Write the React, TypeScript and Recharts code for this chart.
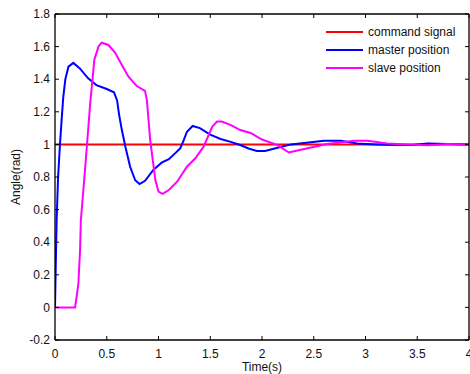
import React from 'react';
import { LineChart, Line, XAxis, YAxis, Legend } from 'recharts';

const xTicks = [0, 0.5, 1, 1.5, 2, 2.5, 3, 3.5, 4];
const yTicks = [-0.2, 0, 0.2, 0.4, 0.6, 0.8, 1, 1.2, 1.4, 1.6, 1.8];
const seriesNames = ['command signal', 'master position', 'slave position'];
const seriesColors = ['#ff0000', '#0000ff', '#ff00ff'];
const xLabel = 'Time(s)';
const yLabel = 'Angle(rad)';

const commandT = [0, 4];
const commandV = [1, 1];

const masterT = [0, 0.008, 0.016, 0.03, 0.048, 0.065, 0.08, 0.1, 0.13, 0.177, 0.24, 0.32, 0.4, 0.5, 0.57, 0.6, 0.62, 0.646, 0.68, 0.726, 0.775, 0.817, 0.87, 0.95, 1.03, 1.1, 1.16, 1.21, 1.24, 1.275, 1.33, 1.4, 1.5, 1.6, 1.69, 1.79, 1.87, 1.95, 2.03, 2.15, 2.28, 2.45, 2.6, 2.76, 2.92, 3.1, 3.28, 3.45, 3.6, 3.8, 4.0];
const masterV = [0, 0.28, 0.54, 0.8, 1.0, 1.16, 1.29, 1.4, 1.477, 1.5, 1.466, 1.405, 1.364, 1.34, 1.32, 1.27, 1.18, 1.088, 0.986, 0.863, 0.78, 0.757, 0.777, 0.843, 0.888, 0.909, 0.945, 0.976, 1.02, 1.078, 1.113, 1.1, 1.06, 1.033, 1.017, 0.996, 0.975, 0.96, 0.96, 0.98, 1.0, 1.012, 1.023, 1.023, 1.006, 1.0, 0.996, 0.996, 1.006, 1.003, 1.0];

const slaveT = [0, 0.194, 0.21, 0.226, 0.242, 0.25, 0.29, 0.34, 0.38, 0.42, 0.45, 0.516, 0.58, 0.646, 0.71, 0.79, 0.87, 0.888, 0.92, 0.97, 1.0, 1.04, 1.1, 1.18, 1.275, 1.356, 1.436, 1.52, 1.566, 1.61, 1.695, 1.79, 1.89, 2.0, 2.15, 2.26, 2.44, 2.63, 2.89, 3.02, 3.21, 3.4, 3.6, 3.8, 4.0];
const slaveV = [0, 0, 0.07, 0.148, 0.35, 0.536, 0.843, 1.25, 1.52, 1.6, 1.624, 1.61, 1.564, 1.487, 1.415, 1.358, 1.329, 1.27, 1.025, 0.78, 0.71, 0.696, 0.72, 0.771, 0.863, 0.915, 0.986, 1.109, 1.14, 1.14, 1.12, 1.088, 1.07, 1.03, 0.996, 0.95, 0.976, 1.003, 1.023, 1.023, 1.006, 1.0, 0.995, 1.003, 1.0];

const zip = (t: number[], v: number[]) => t.map((tt, i) => ({ t: tt, v: v[i] }));
const commandData = zip(commandT, commandV);
const masterData = zip(masterT, masterV);
const slaveData = zip(slaveT, slaveV);

const FONT = '"Liberation Sans", Arial, sans-serif';
const fmt = (v: number) => String(Number(v.toFixed(2)));
const BOTTOM_MARGIN = 9;
const LEFT_MARGIN = 5;
const TICK_LEN = 4;

const BottomTick = (props: any) => {
  const { x, y, payload } = props;
  const axisY = y - BOTTOM_MARGIN;
  return (
    <g>
      <line x1={x} x2={x} y1={axisY} y2={axisY - TICK_LEN} stroke="#000" strokeWidth={1} />
      <text x={x} y={y} dy="0.71em" textAnchor="middle" fontSize={12} fontFamily={FONT} fill="#111">
        {fmt(payload.value)}
      </text>
    </g>
  );
};

const LeftTick = (props: any) => {
  const { x, y, payload } = props;
  const axisX = x + LEFT_MARGIN;
  return (
    <g>
      <line x1={axisX} x2={axisX + TICK_LEN} y1={y} y2={y} stroke="#000" strokeWidth={1} />
      <text x={x} y={y} dy="0.35em" textAnchor="end" fontSize={12} fontFamily={FONT} fill="#111">
        {fmt(payload.value)}
      </text>
    </g>
  );
};

const TopTick = (props: any) => {
  const { x, y } = props;
  return <line x1={x} x2={x} y1={y} y2={y + TICK_LEN} stroke="#000" strokeWidth={1} />;
};

const RightTick = (props: any) => {
  const { x, y } = props;
  return <line x1={x} x2={x - TICK_LEN} y1={y} y2={y} stroke="#000" strokeWidth={1} />;
};

const renderLegend = (props: any) => {
  const payload = (props.payload || []).filter((p: any) => p.type !== 'none');
  return (
    <svg width={150} height={58} style={{ display: 'block' }}>
      {payload.map((p: any, i: number) => (
        <g key={p.value}>
          <line x1={0} x2={37} y1={8 + i * 18} y2={8 + i * 18} stroke={p.color} strokeWidth={2} />
          <text x={42} y={8 + i * 18} dy="0.35em" fontSize={12} fontFamily={FONT} fill="#111">
            {p.value}
          </text>
        </g>
      ))}
    </svg>
  );
};

const YLabel = (props: any) => {
  const vb = props.viewBox;
  const cx = vb.x + 16;
  const cy = vb.y + vb.height / 2;
  return (
    <text x={cx} y={cy} dy="0.35em" transform={`rotate(-90 ${cx} ${cy})`} textAnchor="middle" fontSize={12} fontFamily={FONT} fill="#111">
      {yLabel}
    </text>
  );
};

const XLabel = (props: any) => {
  const vb = props.viewBox;
  const cx = vb.x + vb.width / 2;
  const cy = vb.y + 31;
  return (
    <text x={cx} y={cy} textAnchor="middle" fontSize={12} fontFamily={FONT} fill="#111">
      {xLabel}
    </text>
  );
};

export default function App() {
  return (
    <div style={{ position: 'absolute', left: 0, top: 0, background: '#fff' }}>
      <LineChart width={470} height={374} margin={{ top: 13, right: 0, bottom: 0, left: 0 }}>
        <XAxis
          dataKey="t"
          type="number"
          domain={[0, 4]}
          ticks={xTicks}
          interval={0}
          allowDataOverflow
          height={34}
          tickSize={0}
          tickMargin={BOTTOM_MARGIN}
          tickLine={false}
          tick={<BottomTick />}
          axisLine={{ stroke: '#000', strokeWidth: 1.3 }}
          label={<XLabel />}
        />
        <XAxis
          xAxisId="top"
          orientation="top"
          dataKey="t"
          type="number"
          domain={[0, 4]}
          ticks={xTicks}
          interval={0}
          allowDataOverflow
          height={1}
          tickSize={0}
          tickMargin={0}
          tickLine={false}
          tick={<TopTick />}
          axisLine={{ stroke: '#000', strokeWidth: 1.3 }}
        />
        <YAxis
          type="number"
          domain={[-0.2, 1.8]}
          ticks={yTicks}
          interval={0}
          allowDataOverflow
          width={55}
          tickSize={0}
          tickMargin={LEFT_MARGIN}
          tickLine={false}
          tick={<LeftTick />}
          axisLine={{ stroke: '#000', strokeWidth: 1.3 }}
          label={<YLabel />}
        />
        <YAxis
          yAxisId="right"
          orientation="right"
          type="number"
          domain={[-0.2, 1.8]}
          ticks={yTicks}
          interval={0}
          allowDataOverflow
          width={1}
          tickSize={0}
          tickMargin={0}
          tickLine={false}
          tick={<RightTick />}
          axisLine={{ stroke: '#000', strokeWidth: 1.3 }}
        />
        <Legend
          layout="horizontal"
          verticalAlign="middle"
          align="center"
          content={renderLegend}
          wrapperStyle={{ position: 'absolute', left: 326, top: 24, width: 150, height: 58 }}
        />
        <Line xAxisId="top" yAxisId="right" data={commandData} dataKey="v" name="frame" stroke="none" legendType="none" dot={false} activeDot={false} isAnimationActive={false} />
        <Line data={commandData} dataKey="v" name={seriesNames[0]} stroke={seriesColors[0]} strokeWidth={2} dot={false} activeDot={false} isAnimationActive={false} />
        <Line data={masterData} dataKey="v" name={seriesNames[1]} stroke={seriesColors[1]} strokeWidth={2} dot={false} activeDot={false} isAnimationActive={false} />
        <Line data={slaveData} dataKey="v" name={seriesNames[2]} stroke={seriesColors[2]} strokeWidth={2} dot={false} activeDot={false} isAnimationActive={false} />
      </LineChart>
    </div>
  );
}
